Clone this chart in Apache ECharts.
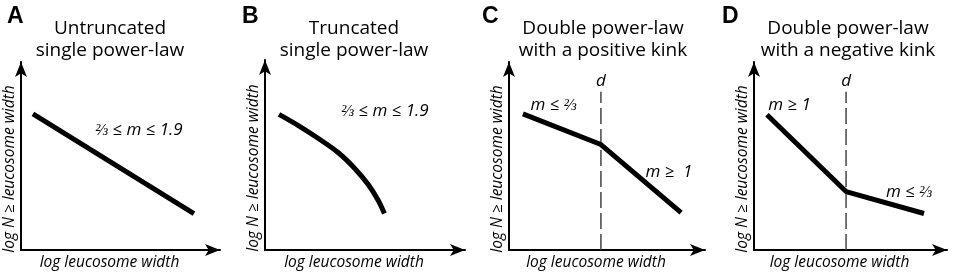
<!DOCTYPE html>
<html>
<head>
<meta charset="utf-8">
<script src="https://cdn.jsdelivr.net/npm/echarts@6/dist/echarts.min.js"></script>
<style>
  html, body { margin: 0; padding: 0; background: #fff; }
  #chart { width: 955px; height: 276px; }
</style>
</head>
<body>
<div id="chart"></div>
<script>
// panel letters and titles
const letters = ['A', 'B', 'C', 'D'];
const titles = [
  'Untruncated\nsingle power-law',
  'Truncated\nsingle power-law',
  'Double power-law\nwith a positive kink',
  'Double power-law\nwith a negative kink'
];
const xName = 'log leucosome width';
const yName = 'log N \u2265 leucosome width';

// curves, in axis units (0..10 both ways)
const curveA = [[0.60, 7.24], [8.69, 1.94]];
const curveB = [[0.70, 7.14], [1.67, 6.55], [2.67, 5.87], [3.67, 5.12], [4.50, 4.28], [5.17, 3.43], [5.67, 2.59], [5.97, 1.92]];
const curveC = [[0.71, 7.24], [4.69, 5.61], [8.78, 1.99]];
const curveD = [[0.67, 7.19], [4.77, 3.11], [8.81, 1.94]];

// kink positions (d) and dashed-line top
const kinkC = 4.69;
const kinkD = 4.77;
const dashTop = 8.42;

// slope annotations [x, y, text]
const notesA = [[5.93, 6.38, '\u2154 \u2264 m \u2264 1.9']];
const notesB = [[6.0, 7.32, '\u2154 \u2264 m \u2264 1.9']];
const notesC = [[2.27, 7.70, 'm \u2264 \u2154'], [8.16, 4.13, 'm \u2265  1'], [kinkC, 8.98, 'd']];
const notesD = [[1.84, 7.70, 'm \u2265 1'], [8.03, 3.06, 'm \u2264 \u2154'], [kinkD, 8.98, 'd']];

const grids = [
  { left: 21, top: 62, width: 199, height: 196 },
  { left: 265, top: 60, width: 200, height: 198 },
  { left: 509, top: 62, width: 196, height: 196 },
  { left: 754, top: 62, width: 193, height: 196 }
];
const titleX = [105, 349, 598, 843];
const letterX = [2, 237, 477, 717];

const font = 'Open Sans';
let chart = echarts.init(document.getElementById('chart'));

function axisBase() {
  return {
    type: 'value', min: 0, max: 10,
    axisLine: { show: true, onZero: false, lineStyle: { color: '#000', width: 2 }, symbol: ['none', 'arrow'], symbolSize: [9, 15] },
    axisTick: { show: false },
    axisLabel: { show: false },
    splitLine: { show: false }
  };
}

let xAxis = [], yAxis = [];
for (let i = 0; i < 4; i++) {
  xAxis.push(Object.assign(axisBase(), { gridIndex: i, name: xName, nameLocation: 'middle', nameGap: 5,
    nameTextStyle: { fontFamily: font, fontStyle: 'italic', fontSize: 15.5, color: '#000', padding: [0, 22, 0, 0] } }));
  yAxis.push(Object.assign(axisBase(), { gridIndex: i, name: yName, nameLocation: 'middle', nameGap: 3,
    nameTextStyle: { fontFamily: font, fontStyle: 'italic', fontSize: 15.5, color: '#000', padding: [0, 26, 0, 0] } }));
}

let title = [];
for (let i = 0; i < 4; i++) {
  title.push({ text: letters[i], left: letterX[i], top: 0,
    textStyle: { fontFamily: 'Liberation Sans', fontWeight: 'bold', fontSize: 23, color: '#000' } });
  title.push({ text: titles[i], left: titleX[i], top: 13, textAlign: 'center',
    textStyle: { fontFamily: font, fontWeight: 'normal', fontSize: 19, lineHeight: 22, color: '#000' } });
}

function curve(data, idx, smooth) {
  return { type: 'line', xAxisIndex: idx, yAxisIndex: idx, data: data, smooth: smooth, symbol: 'none',
    lineStyle: { color: '#000', width: 5 }, silent: true };
}
function dash(x, idx) {
  return { type: 'line', xAxisIndex: idx, yAxisIndex: idx, data: [[x, 0], [x, dashTop]], symbol: 'none',
    lineStyle: { color: '#444', width: 1.5, type: [16, 5] }, silent: true };
}
function notes(list, idx) {
  return { type: 'scatter', xAxisIndex: idx, yAxisIndex: idx, symbolSize: 0, silent: true,
    itemStyle: { opacity: 1 },
    data: list.map(n => ({ value: [n[0], n[1]], name: n[2] })),
    label: { show: true, position: 'inside', formatter: '{b}', fontFamily: font, fontStyle: 'italic', fontSize: 17, color: '#000' } };
}

chart.setOption({
  animation: false,
  title: title,
  grid: grids,
  xAxis: xAxis,
  yAxis: yAxis,
  series: [
    curve(curveA, 0, false),
    curve(curveB, 1, 0.3),
    dash(kinkC, 2),
    curve(curveC, 2, false),
    dash(kinkD, 3),
    curve(curveD, 3, false),
    notes(notesA, 0),
    notes(notesB, 1),
    notes(notesC, 2),
    notes(notesD, 3)
  ]
});
</script>
</body>
</html>
